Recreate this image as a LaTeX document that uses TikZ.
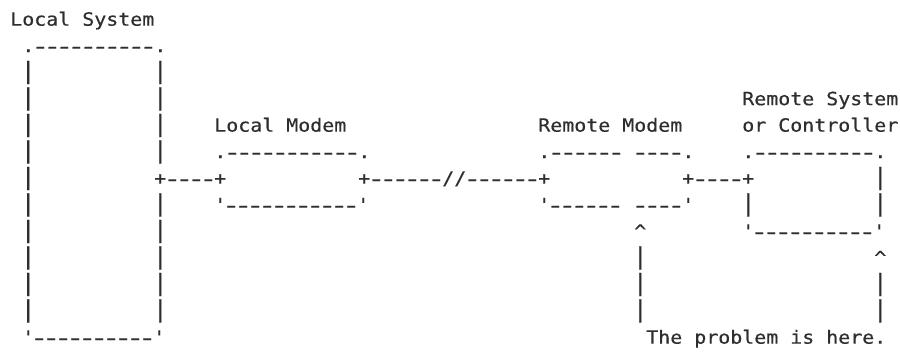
\documentclass[tikz,border=0pt]{standalone}
\usepackage{fontspec}
\usepackage{graphicx}
\setmonofont{DejaVu Sans Mono}[FakeStretch=1.092,FakeBold=0.5]
\newcommand\asciifont{\ttfamily\fontsize{18.25pt}{26.5pt}\selectfont}
\newcommand\vbar{\makebox[12pt][c]{\scalebox{1.25}[1.27]{|}}}
\newcommand\aq{\textquotesingle}
\newcommand\dsh{\makebox[12pt][c]{\raisebox{-1.8pt}{\scalebox{1.5}[1.25]{-}}}}
\newcount\dcnt
\newcommand\dashes[1]{\dcnt=0\relax\loop\ifnum\dcnt<#1\relax\dsh\advance\dcnt by 1\relax\repeat}
\begin{document}
\begin{tikzpicture}
\useasboundingbox (0pt,0pt) rectangle (900pt,-352pt);
\begin{scope}[shift={(10.3pt,-25.7pt)}, x=12pt, y=-26.5pt,
  ch/.style={anchor=base west, inner sep=0pt, outer sep=0pt, text=black!82, font=\asciifont}]
% Local System
\node[ch] (title) at (0,0) {Local System};
\node[ch] (lsTop) at (1,1) {.\dashes{10}.};
\foreach \k in {2,...,11} \node[ch] (lsL\k) at (1,\k) {\vbar};
\foreach \k in {2,3,4,5,7,8,9,10,11} \node[ch] (lsR\k) at (12,\k) {\vbar};
\node[ch] (lsBot) at (1,12) {\aq\dashes{10}\aq};
\node[ch] (link1) at (12,6) {+\dashes{4}+};
% Local Modem
\node[ch] (lmLabel) at (17,4) {Local Modem};
\node[ch] (lmTop) at (17,5) {.\dashes{11}.};
\node[ch] (lmBot) at (17,7) {\aq\dashes{11}\aq};
\node[ch] (link2) at (29,6) {+\dashes{6}//\dashes{6}+};
% Remote Modem
\node[ch] (rmLabel) at (44,4) {Remote Modem};
\node[ch] (rmTopA) at (44,5) {.\dashes{6}};
\node[ch] (rmTopB) at (52,5) {\dashes{4}.};
\node[ch] (rmBotA) at (44,7) {\aq\dashes{6}};
\node[ch] (rmBotB) at (52,7) {\dashes{4}\aq};
\node[ch] (link3) at (56,6) {+\dashes{4}+};
% Remote System
\node[ch] (rsLabelA) at (61,3) {Remote System};
\node[ch] (rsLabelB) at (61,4) {or Controller};
\node[ch] (rsTop) at (61,5) {.\dashes{10}.};
\node[ch] (rsR6) at (72,6) {\vbar};
\node[ch] (rsL7) at (61,7) {\vbar};
\node[ch] (rsR7) at (72,7) {\vbar};
\node[ch] (rsBot) at (61,8) {\aq\dashes{10}\aq};
% pointers
\node[ch] (caretA) at (52,8) {\textasciicircum};
\foreach \k in {9,10,11} \node[ch] (stemA\k) at (52,\k) {\vbar};
\node[ch] (caretB) at (72,9) {\textasciicircum};
\foreach \k in {10,11} \node[ch] (stemB\k) at (72,\k) {\vbar};
\node[ch] (note) at (53,12) {The problem is here.};
\end{scope}
\end{tikzpicture}
\end{document}
